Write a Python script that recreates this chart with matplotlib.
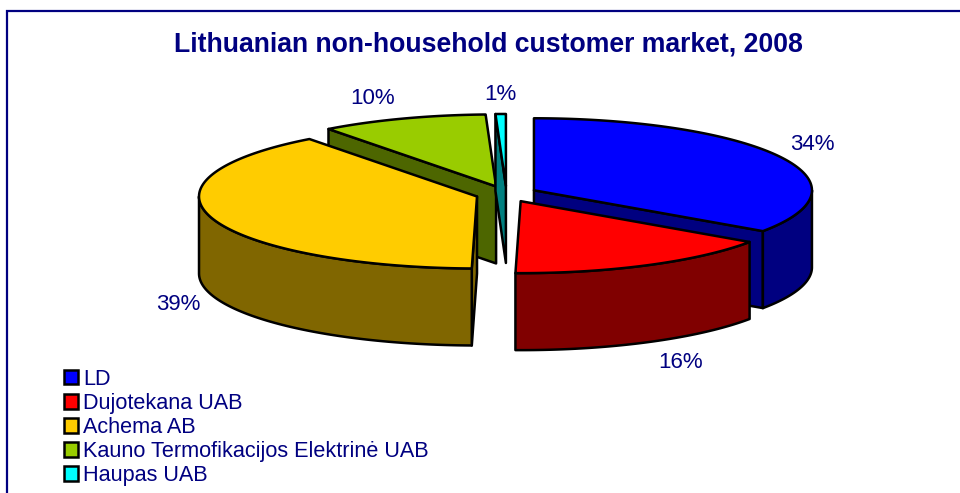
import numpy as np
import matplotlib
matplotlib.use("Agg")
import matplotlib.pyplot as plt
from matplotlib.patches import Polygon, Patch

plt.rcParams['font.family'] = ['Liberation Sans', 'DejaVu Sans']

title = "Lithuanian non-household customer market, 2008"
categories = ["LD", "Dujotekana UAB", "Achema AB", "Kauno Termofikacijos Elektrinė UAB", "Haupas UAB"]
values = [34.6, 15.7, 39.4, 9.7, 0.6]
value_labels = ["34%", "16%", "39%", "10%", "1%"]
top_colors = ["#0000FF", "#FF0000", "#FFCC00", "#99CC00", "#00FFFF"]
side_colors = ["#000080", "#800000", "#806600", "#4D6600", "#008080"]
label_pos = [(812, 145), (681, 363), (178, 304), (373, 98), (500, 94)]
draw_order = [3, 4, 0, 2, 1]

NAVY = "#000080"
CX, CY, RX, RY, DEPTH, EXPLODE = 506.5, 194, 278, 72, 77, 31
LW = 1.8

fig = plt.figure(figsize=(9.6, 4.93), dpi=100)
ax = fig.add_axes([0, 0, 1, 1])
ax.set_xlim(0, 960)
ax.set_ylim(493, 0)
ax.axis("off")


def pt(c, a):
    return np.array([c[0] + RX * np.cos(a), c[1] - RY * np.sin(a)])


def poly(points, color):
    ax.add_patch(Polygon(points, closed=True, facecolor=color, edgecolor="black",
                         linewidth=LW, joinstyle="round"))


fracs = np.array(values) / sum(values) * 2 * np.pi
ends = np.pi / 2 - np.cumsum(fracs)
starts = ends + fracs

for i in draw_order:
    a1, a2 = starts[i], ends[i]
    mid = (a1 + a2) / 2
    c = (CX + EXPLODE * np.cos(mid), CY - EXPLODE * RY / RX * np.sin(mid))
    apex = np.array(c)
    q = pt(c, mid)
    down = np.array([0, DEPTH])
    # radial walls facing the viewer
    for a in (a1, a2):
        p = pt(c, a)
        dx = p[0] - apex[0]
        if abs(dx) < 1e-3 or abs(np.cos(a)) < 1e-6:
            continue
        line_y = apex[1] + (p[1] - apex[1]) * (q[0] - apex[0]) / dx
        if q[1] < line_y:
            poly([apex, p, p + down, apex + down], side_colors[i])
    # outer wall on the front half of the rim
    lo, hi = max(a2, -np.pi), min(a1, 0)
    if hi > lo:
        arc = np.array([pt(c, a) for a in np.linspace(hi, lo, 120)])
        poly(np.vstack([arc, (arc + down)[::-1]]), side_colors[i])
    # top face
    arc = np.array([pt(c, a) for a in np.linspace(a1, a2, 200)])
    poly(np.vstack([apex, arc]), top_colors[i])

for (x, y), s in zip(label_pos, value_labels):
    ax.text(x, y, s, color=NAVY, fontsize=16, ha="center", va="center")

ax.text(488, 44, title, color=NAVY, fontsize=19.2, fontweight="bold", ha="center", va="center")

# frame: left and top rules only
ax.plot([6.5, 6.5, 960], [493, 10.5, 10.5], color=NAVY, lw=1.6, solid_joinstyle="miter")

handles = [Patch(facecolor=c, edgecolor="black", linewidth=1.8) for c in top_colors]
ax.legend(handles, categories, loc="lower left", bbox_to_anchor=(63.5 / 960, 7 / 493),
          bbox_transform=fig.transFigure, frameon=False, fontsize=15.6,
          labelcolor=NAVY, handlelength=0.65, handleheight=0.65, handletextpad=0.25,
          labelspacing=0.14, borderpad=0, borderaxespad=0)

fig.savefig("out.png", dpi=100)
